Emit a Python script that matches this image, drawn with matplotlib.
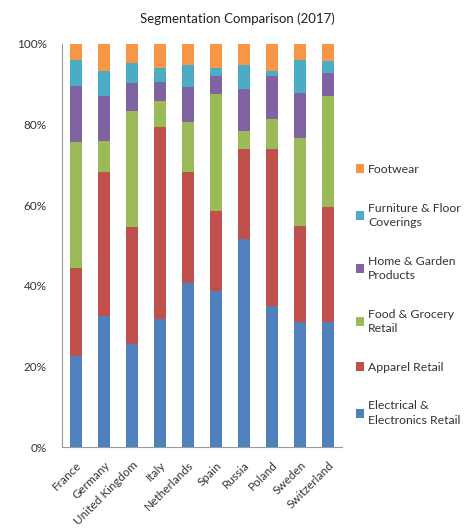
import matplotlib
matplotlib.use("Agg")
import matplotlib.pyplot as plt
import numpy as np
from matplotlib.ticker import PercentFormatter

# Países y segmentos (porcentajes)
paises = ["France", "Germany", "United Kingdom", "Italy", "Netherlands",
          "Spain", "Russia", "Poland", "Sweden", "Switzerland"]

electrical = [22.6, 32.5, 25.6, 31.8, 40.7, 38.7, 51.6, 35.0, 31.0, 31.0]
apparel = [21.8, 35.7, 29.0, 47.6, 27.5, 19.9, 22.3, 38.9, 23.8, 28.6]
food = [31.3, 7.7, 28.8, 6.5, 12.4, 29.0, 4.5, 7.5, 21.9, 27.5]
home = [13.9, 11.2, 6.9, 4.7, 8.7, 4.5, 10.4, 10.7, 11.1, 5.7]
furniture = [6.4, 6.2, 5.0, 3.4, 5.5, 1.9, 6.0, 1.2, 8.2, 3.0]
footwear = [4.0, 6.7, 4.7, 6.0, 5.2, 6.0, 5.2, 6.7, 4.0, 4.2]

etiquetas = ["Electrical &\nElectronics Retail", "Apparel Retail",
             "Food & Grocery\nRetail", "Home & Garden\nProducts",
             "Furniture & Floor\nCoverings", "Footwear"]
colores = ["#4F81BD", "#C0504D", "#9BBB59", "#8064A2", "#4BACC6", "#F79646"]

plt.rcParams['font.family'] = ['Lato', 'DejaVu Sans']

fig = plt.figure(figsize=(4.7, 5.28), dpi=100)
ax = fig.add_axes([0.132, 0.153, 0.596, 0.764])

x = np.arange(len(paises))
base = np.zeros(len(paises))
series = [electrical, apparel, food, home, furniture, footwear]
barras = []
for valores, etiqueta, color in zip(series, etiquetas, colores):
    valores = np.array(valores)
    b = ax.bar(x, valores, 0.42, bottom=base, color=color, label=etiqueta)
    barras.append(b)
    base = base + valores

ax.set_xlim(-0.5, 9.5)
ax.set_ylim(0, 100)
ax.set_yticks(np.arange(0, 101, 20))
ax.yaxis.set_major_formatter(PercentFormatter(decimals=0))
ax.tick_params(axis='y', length=0, labelsize=8.5, pad=11, colors='#333333')
ax.tick_params(axis='x', length=0, labelsize=8.5, pad=9, colors='#333333')
ax.set_xticks(x)
ax.set_xticklabels(paises, rotation=45, ha='right', rotation_mode='anchor')

for lado in ['top', 'right']:
    ax.spines[lado].set_visible(False)
for lado in ['left', 'bottom']:
    ax.spines[lado].set_color('#999999')
    ax.spines[lado].set_linewidth(0.8)

# Leyenda en orden inverso (Footwear arriba)
leyenda = fig.legend(barras[::-1], etiquetas[::-1], loc='center left',
                     bbox_to_anchor=(0.733, 0.442), frameon=False, fontsize=8.8,
                     handlelength=0.7, handleheight=0.7, handletextpad=0.35,
                     labelspacing=2.28, labelcolor='#333333')
for t in leyenda.get_texts():
    t.set_linespacing(1.35)

fig.text(0.505, 0.965, "Segmentation Comparison (2017)", ha='center',
         va='center', fontsize=9.5, color='#222222')

fig.savefig("out.png", dpi=100)
